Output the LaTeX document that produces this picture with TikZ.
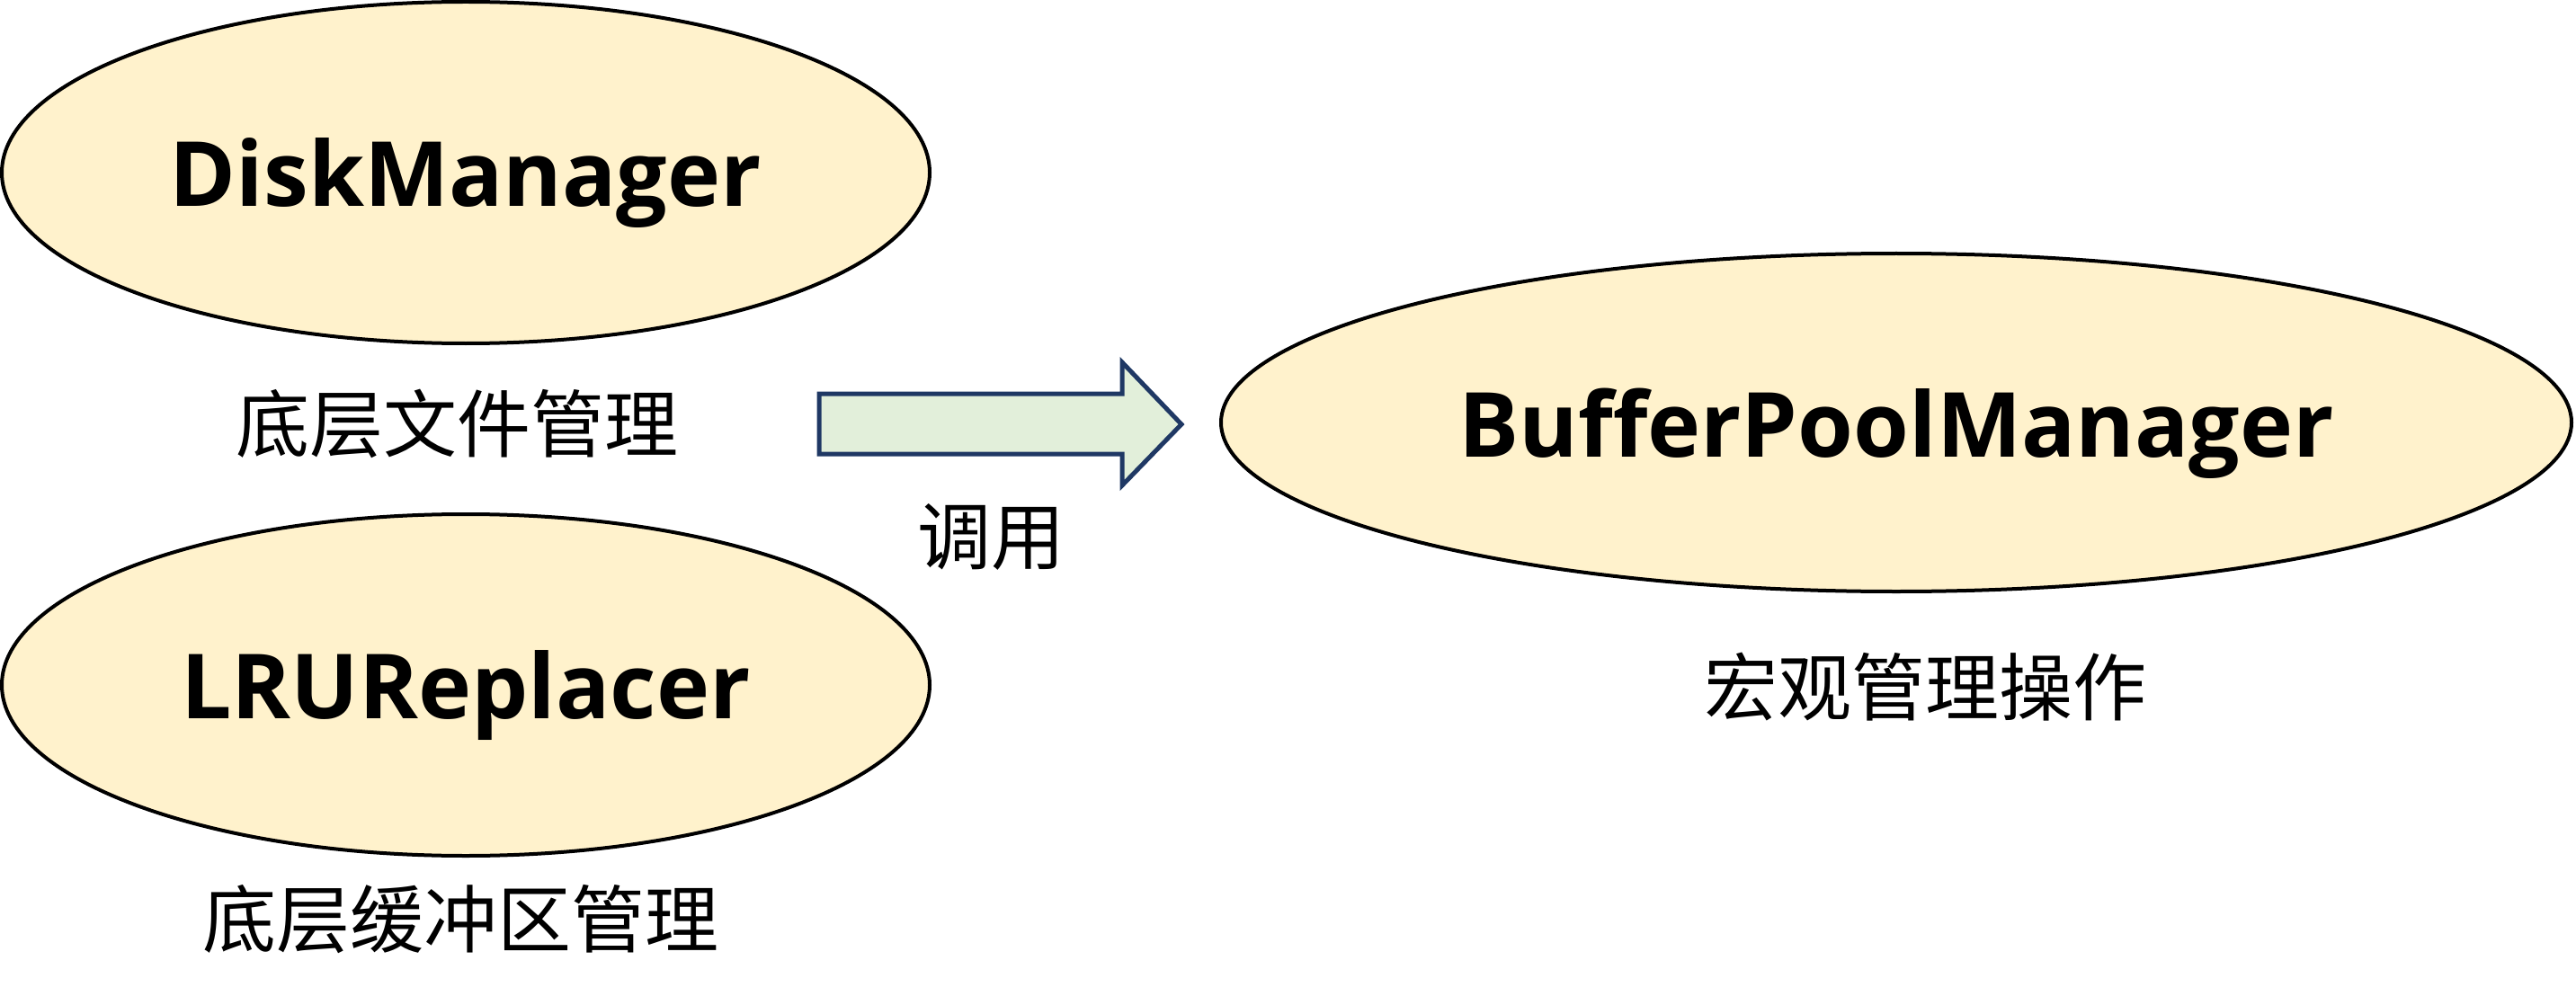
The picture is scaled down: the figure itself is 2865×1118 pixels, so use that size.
\documentclass[tikz,border=0pt]{standalone}
\usepackage{fontspec}
\usetikzlibrary{shapes.geometric}
\newfontfamily\namefont{Open Sans}
\newfontfamily\cjk{Noto Sans CJK SC}
\definecolor{modfill}{HTML}{FFF2CC}
\definecolor{callfill}{HTML}{E2EFDA}
\definecolor{calldraw}{HTML}{1F3864}
\newcommand{\modname}[1]{\raisebox{-6pt}[\height][\depth]{#1}}
\tikzset{
  module/.style={ellipse, draw=black, line width=2pt, fill=modfill, inner sep=0pt,
    font=\namefont\bfseries\fontsize{50}{58}\selectfont},
  note/.style={font=\cjk\fontsize{41}{48}\selectfont, inner sep=0pt},
}
\begin{document}
\begin{tikzpicture}[x=0.5pt, y=-0.5pt]
  \useasboundingbox (0,0) rectangle (2865,1118);
  \node [module, minimum width=516pt, minimum height=190pt] (disk) at (518,192) {\modname{DiskManager}};
  \node [module, minimum width=516pt, minimum height=190pt] (lru) at (518,762) {\modname{LRUReplacer}};
  \node [module, minimum width=751pt, minimum height=188pt] (bpm) at (2109,470) {\modname{BufferPoolManager}};
  \node [note] (disknote) at (508,471) {底层文件管理};
  \node [note] (lrunote) at (512,1023) {底层缓冲区管理};
  \node [note] (bpmnote) at (2141,764) {宏观管理操作};
  \node [note] (callnote) at (1102,597) {调用};
  % block arrow
  \draw [calldraw, fill=callfill, line width=2.5pt, line join=miter]
    (911,438) -- (1248,438) -- (1248,403) -- (1314,472) -- (1248,540)
    -- (1248,505) -- (911,505) -- cycle;
\end{tikzpicture}
\end{document}
